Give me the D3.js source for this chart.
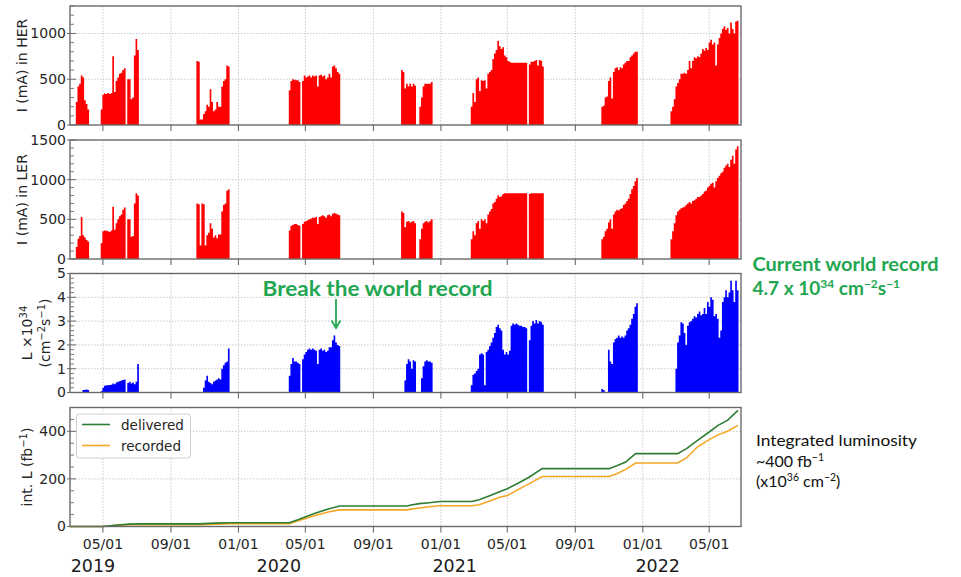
<!DOCTYPE html>
<html><head><meta charset="utf-8">
<script src="https://cdn.jsdelivr.net/npm/d3@7"></script>
<style>body{margin:0;background:#fff;} svg{display:block;}</style>
</head><body><svg id="c" width="961" height="577"></svg>
<script>
// ---------------- DATA ----------------
const runStarts = ["2019-03-13","2019-04-27","2019-10-17","2020-04-01","2020-10-21","2021-02-24","2021-10-18","2022-02-20"];
const stepDays = 3;
const herRuns = [
 [250,420,450,540,520,270,230,170],
 [170,330,345,340,350,340,350,750,360,480,520,560,570,600,620,0,500,500,280,300,760,940,820],
 [700,690,60,60,120,150,220,200,390,250,150,170,250,200,200,420,480,500,650,640],
 [380,480,500,495,490,490,470,0,480,540,520,530,540,520,540,530,540,420,540,550,530,540,500,520,560,520,640,650,620,580,560],
 [600,580,400,450,420,450,420,450,430,0,0,200,300,420,450,450,450,450,470],
 [200,350,250,500,520,370,490,480,490,400,560,580,600,720,780,820,920,860,830,850,760,740,700,690,680,680,680,680,680,680,680,680,680,680,0,660,690,690,700,710,650,710,700,640],
 [200,210,300,310,480,520,290,580,620,630,600,630,620,660,680,700,700,740,760,780,800,800],
 [150,200,280,420,460,500,560,560,570,560,600,700,620,700,740,730,750,740,780,830,810,840,820,900,930,880,900,650,880,950,1000,1050,1080,1040,1060,1000,1120,1050,1000,1130,1140]
];
const lerRuns = [
 [150,255,290,530,300,270,240,220],
 [200,350,360,355,350,340,360,660,370,450,500,540,560,620,650,0,500,500,280,290,700,830,800],
 [700,690,170,700,690,170,300,330,450,380,270,300,260,310,310,600,680,700,860,880],
 [360,420,430,440,440,430,420,0,440,470,480,490,500,510,520,520,530,440,530,540,550,540,520,550,560,540,570,580,570,560,550],
 [600,580,400,470,480,460,470,480,450,0,0,250,380,450,470,480,460,480,500],
 [250,350,300,450,480,380,500,480,500,450,560,600,630,700,720,760,800,780,790,820,830,830,830,830,830,830,830,830,830,830,830,830,830,830,0,820,830,830,830,830,830,830,830,830],
 [250,280,350,380,460,500,380,560,600,620,610,630,640,680,700,730,760,820,880,920,980,1020],
 [250,350,450,550,600,620,640,650,660,680,700,720,700,730,740,760,780,780,800,820,850,860,900,920,950,960,900,980,1020,1050,1080,1100,1150,1180,1200,1160,1250,1300,1200,1380,1420]
];
const lumRuns = [
 [0,0,0,0,0.1,0.12,0.13,0.1],
 [0.05,0.2,0.28,0.3,0.3,0.32,0.33,0.38,0.35,0.42,0.45,0.47,0.5,0.52,0.55,0,0.4,0.45,0.38,0.42,0.35,0.45,1.2],
 [0,0,0,0,0.2,0.5,0.7,0.45,0.4,0.35,0.45,0.5,0.55,0.6,0.55,1.0,1.15,1.25,1.3,1.85],
 [0.7,1.2,1.45,1.3,1.3,1.25,1.2,0,1.4,1.6,1.7,1.8,1.85,1.8,1.85,1.8,1.75,1.2,1.8,1.85,1.75,1.8,1.7,1.75,1.9,1.9,2.2,2.4,2.1,2.0,1.95],
 [0,0,0.5,1.2,1.4,1.3,1.0,1.35,1.3,0,0,0,0.6,1.1,1.3,1.35,1.3,1.3,1.25],
 [0.3,0.75,0.8,0.9,1.0,1.6,1.65,1.6,0.3,1.7,1.8,1.95,2.1,2.3,2.5,2.75,2.85,2.7,2.6,1.8,1.6,1.7,1.6,1.75,2.8,2.9,2.85,2.9,2.85,2.8,2.8,2.75,2.75,2.7,0,2.2,2.8,3.0,2.9,3.05,2.9,3.0,2.95,2.85],
 [0.15,0.1,0,0,1.8,1.3,1.2,2.1,2.25,2.3,2.4,2.3,2.35,2.3,2.4,2.6,2.7,2.85,3.1,3.3,3.6,3.75],
 [0,0,0,1.0,2.1,2.4,2.95,2.9,2.5,2.0,2.8,2.95,3.0,3.1,3.2,3.15,3.3,3.4,3.25,3.3,3.55,3.3,3.8,3.6,4.0,3.9,3.2,3.3,3.1,2.3,2.6,3.8,4.0,4.3,4.0,4.2,4.7,4.3,3.8,4.7,4.3]
];
const intDates = ["2019-03-02","2019-05-01","2019-05-22","2019-06-18","2019-07-06","2019-10-23","2019-11-19","2019-12-16","2020-04-02","2020-04-20","2020-05-17","2020-06-13","2020-07-02","2020-11-01","2020-11-08","2020-11-23","2020-12-11","2020-12-30","2021-02-26","2021-03-11","2021-03-29","2021-04-16","2021-05-01","2021-05-23","2021-06-10","2021-07-03","2021-11-01","2021-11-15","2021-12-01","2021-12-19","2022-03-05","2022-03-21","2022-04-10","2022-05-01","2022-05-17","2022-06-03","2022-06-22"];
const intDelivered = [0,0,5,10,11,11,14,16,16,30,55,75,86,86,90,96,100,105,105,112,128,145,159,185,208,243,243,255,271,306,306,327,362,397,425,446,488];
const intRecorded  = [0,0,4,8,8,8,10,12,12,25,45,62,70,70,73,78,83,87,87,91,106,122,130,158,180,210,210,222,240,267,267,288,335,365,385,400,425];
const herTicks = [0,500,1000];
const lerTicks = [0,500,1000,1500];
const lumTicks = [0,1,2,3,4,5];
const intTicks = [0,200,400];
const monthTicks = ["2019-05-01","2019-09-01","2020-01-01","2020-05-01","2020-09-01","2021-01-01","2021-05-01","2021-09-01","2022-01-01","2022-05-01"];
const yearLabels = ["2019","2020","2021","2022"];
const yearAnchors = ["2019-04-13","2020-03-14","2021-01-26","2022-01-28"];

// ---------------- DRAW ----------------
const parse = d3.timeParse("%Y-%m-%d");
const svg = d3.select("#c");
const L = 70, R = 741, H = 119;
const x = d3.scaleTime().domain([new Date(2019,2,2,12), new Date(2022,5,27,12)]).range([L, R]);
const months = monthTicks.map(parse);
const tickFont = "DejaVu Sans, sans-serif";
const frameCol = "#6a6a6a";

function makePanel(top, domain, ticks, minorStep, showX) {
  const y = d3.scaleLinear().domain(domain).range([top + H, top]);
  const g = svg.append("g");
  const grid = g.append("g");
  grid.selectAll("line.gy").data(ticks.filter(t => t > domain[0] && t < domain[1])).join("line")
    .attr("x1", L).attr("x2", R).attr("y1", d => y(d)).attr("y2", d => y(d))
    .attr("stroke", "#c4c4c4").attr("stroke-width", 0.9).attr("stroke-dasharray", "1.5,1.5");
  grid.selectAll("line.gx").data(months).join("line")
    .attr("x1", d => x(d)).attr("x2", d => x(d)).attr("y1", top).attr("y2", top + H)
    .attr("stroke", "#c4c4c4").attr("stroke-width", 0.9).attr("stroke-dasharray", "1.5,1.5");
  const data = g.append("g");
  const over = g.append("g");
  const ax = d3.axisLeft(y).tickValues(ticks).tickSize(0).tickPadding(4).tickFormat(d3.format("d"));
  const axg = over.append("g").attr("transform", `translate(${L},0)`).call(ax);
  axg.select(".domain").remove();
  axg.selectAll("text").attr("font-family", tickFont).attr("font-size", 14).attr("fill", "#262626");
  const minors = d3.range(domain[0], domain[1] + 1e-9, minorStep).filter(v => !ticks.some(t => Math.abs(t - v) < 1e-9));
  over.selectAll("line.mi").data(minors).join("line")
    .attr("x1", L).attr("x2", L + 4).attr("y1", d => y(d)).attr("y2", d => y(d))
    .attr("stroke", frameCol).attr("stroke-width", 0.9);
  over.selectAll("line.ma").data(ticks).join("line")
    .attr("x1", L - 3).attr("x2", L + 6).attr("y1", d => y(d)).attr("y2", d => y(d))
    .attr("stroke", frameCol).attr("stroke-width", 1);
  over.selectAll("line.xt").data(months).join("line")
    .attr("x1", d => x(d)).attr("x2", d => x(d)).attr("y1", top + H).attr("y2", top + H + 6)
    .attr("stroke", frameCol).attr("stroke-width", 1.1);
  if (showX) {
    over.selectAll("text.xl").data(months).join("text")
      .attr("x", d => x(d)).attr("y", top + H + 22).attr("text-anchor", "middle")
      .attr("font-family", tickFont).attr("font-size", 14).attr("fill", "#262626")
      .text(d => d3.timeFormat("%m/%d")(d));
  }
  over.append("rect").attr("x", L).attr("y", top).attr("width", R - L).attr("height", H)
    .attr("fill", "none").attr("stroke", frameCol).attr("stroke-width", 1.4);
  return { y, data, top };
}

function drawBars(p, runs, color) {
  runs.forEach((vals, r) => {
    const s = parse(runStarts[r]);
    const pts = vals.map((v, i) => [d3.timeDay.offset(s, i * stepDays), v]);
    pts.push([d3.timeDay.offset(s, vals.length * stepDays), vals[vals.length - 1]]);
    const area = d3.area().curve(d3.curveStepAfter)
      .x(d => x(d[0])).y0(p.y(0)).y1(d => p.y(d[1]));
    p.data.append("path").datum(pts).attr("d", area).attr("fill", color);
  });
}

const p1 = makePanel(6, [0, 1300], herTicks, 100, false);
const p2 = makePanel(140, [0, 1500], lerTicks, 100, false);
const p3 = makePanel(273.5, [0, 5], lumTicks, 0.2, false);
const p4 = makePanel(407.5, [0, 500], intTicks, 50, true);

drawBars(p1, herRuns, "#ff0000");
drawBars(p2, lerRuns, "#ff0000");
drawBars(p3, lumRuns, "#0000ff");

const idates = intDates.map(parse);
const line = d3.line().x((d, i) => x(idates[i])).y(d => p4.y(d));
p4.data.append("path").datum(intRecorded).attr("d", line).attr("fill", "none").attr("stroke", "#f5a623").attr("stroke-width", 1.6);
p4.data.append("path").datum(intDelivered).attr("d", line).attr("fill", "none").attr("stroke", "#2e7d32").attr("stroke-width", 1.6);

const lg = svg.append("g");
lg.append("rect").attr("x", 76.5).attr("y", 414).attr("width", 114).attr("height", 44).attr("rx", 3)
  .attr("fill", "#fff").attr("fill-opacity", 0.85).attr("stroke", "#d0d0d0");
[["delivered", "#2e7d32", 424.5], ["recorded", "#f5a623", 445.5]].forEach(([t, c, yy]) => {
  lg.append("line").attr("x1", 82).attr("x2", 110).attr("y1", yy).attr("y2", yy).attr("stroke", c).attr("stroke-width", 1.6);
  lg.append("text").attr("x", 121).attr("y", yy + 5).attr("font-family", tickFont).attr("font-size", 13.5).attr("fill", "#262626").text(t);
});

svg.selectAll("text.yr").data(yearLabels).join("text")
  .attr("x", (d, i) => x(parse(yearAnchors[i]))).attr("y", 572).attr("text-anchor", "middle")
  .attr("font-family", tickFont).attr("font-size", 17.5).attr("fill", "#1a1a1a").text(d => d);

function ylab(cx, cy) {
  return svg.append("text").attr("transform", `translate(${cx},${cy}) rotate(-90)`)
    .attr("text-anchor", "middle").attr("font-family", tickFont).attr("font-size", 14).attr("fill", "#262626");
}
ylab(27, 65.5).text("I (mA) in HER");
ylab(27, 199.5).text("I (mA) in LER");
const l1 = ylab(32, 333);
l1.append("tspan").text("L ×10");
l1.append("tspan").attr("baseline-shift", "super").attr("font-size", 10).text("34");
const l2 = ylab(50, 333);
l2.append("tspan").text("(cm");
l2.append("tspan").attr("baseline-shift", "super").attr("font-size", 10).text("−2");
l2.append("tspan").text("s");
l2.append("tspan").attr("baseline-shift", "super").attr("font-size", 10).text("−1");
l2.append("tspan").text(")");
const l4 = ylab(32, 467);
l4.append("tspan").text("int. L (fb");
l4.append("tspan").attr("baseline-shift", "super").attr("font-size", 10).text("−1");
l4.append("tspan").text(")");

const green = "#22a650";
const af = "Lato, 'Open Sans', sans-serif";
svg.append("text").attr("x", 262.5).attr("y", 295.5).attr("font-family", af).attr("font-weight", "bold")
  .attr("font-size", 20).attr("fill", green).attr("textLength", 230).attr("lengthAdjust", "spacingAndGlyphs").text("Break the world record");
svg.append("line").attr("x1", 336).attr("x2", 336).attr("y1", 299).attr("y2", 327.5).attr("stroke", green).attr("stroke-width", 1.8);
svg.append("path").attr("d", "M331.5,320.5 L336,328 L340.5,320.5").attr("fill", "none").attr("stroke", green).attr("stroke-width", 1.8);

svg.append("text").attr("x", 752.5).attr("y", 270.5).attr("font-family", af).attr("font-weight", "bold")
  .attr("font-size", 19).attr("fill", green).attr("textLength", 186).attr("lengthAdjust", "spacingAndGlyphs").text("Current world record");
const wr = svg.append("text").attr("x", 752.5).attr("y", 294.5).attr("font-family", af).attr("font-weight", "bold")
  .attr("font-size", 19).attr("fill", green);
wr.append("tspan").text("4.7 x 10");
wr.append("tspan").attr("baseline-shift", "super").attr("font-size", 12).text("34");
wr.append("tspan").text(" cm");
wr.append("tspan").attr("baseline-shift", "super").attr("font-size", 12).text("−2");
wr.append("tspan").text("s");
wr.append("tspan").attr("baseline-shift", "super").attr("font-size", 12).text("−1");

svg.append("text").attr("x", 756).attr("y", 446).attr("font-family", af).attr("font-size", 16).attr("fill", "#111")
  .attr("textLength", 161).attr("lengthAdjust", "spacingAndGlyphs").text("Integrated luminosity");
const t2 = svg.append("text").attr("x", 756).attr("y", 467).attr("font-family", af).attr("font-size", 16).attr("fill", "#111");
t2.append("tspan").text("~400 fb");
t2.append("tspan").attr("baseline-shift", "super").attr("font-size", 10.5).text("−1");
const t3 = svg.append("text").attr("x", 756).attr("y", 487).attr("font-family", af).attr("font-size", 16).attr("fill", "#111");
t3.append("tspan").text("(x10");
t3.append("tspan").attr("baseline-shift", "super").attr("font-size", 10.5).text("36");
t3.append("tspan").text(" cm");
t3.append("tspan").attr("baseline-shift", "super").attr("font-size", 10.5).text("−2");
t3.append("tspan").text(")");
</script></body></html>
